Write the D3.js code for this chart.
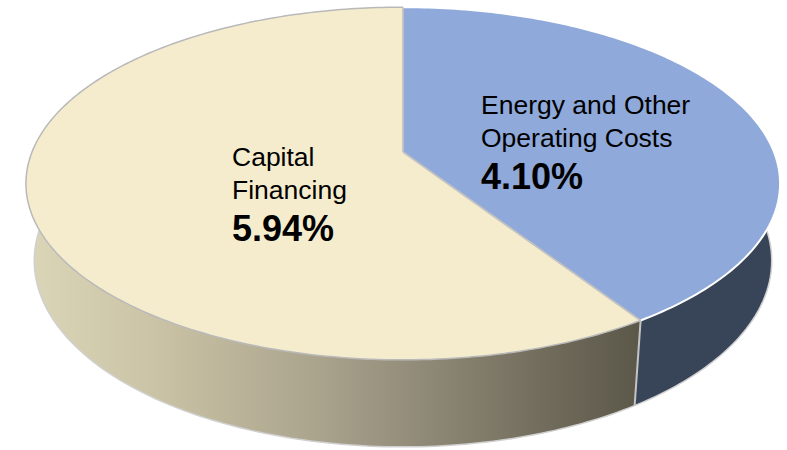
<!DOCTYPE html>
<html lang="en">
<head>
<meta charset="UTF-8">
<title>3D Pie</title>
<script src="https://cdnjs.cloudflare.com/ajax/libs/d3/7.8.5/d3.min.js"></script>
<style>
  body { margin: 0; background: #fff; }
  svg { display: block; }
  text { font-family: "Liberation Sans", Arial, sans-serif; fill: #000; }
</style>
</head>
<body>
<script>
  // data
  const categories = ['Energy and Other Operating Costs', 'Capital Financing'];
  const values = [4.10, 5.94];
  const labelLines = [['Energy and Other', 'Operating Costs'], ['Capital', 'Financing']];
  const valueLabels = ['4.10%', '5.94%'];

  const w = 787;
  const h = 450;

  // perspective camera looking down at a unit disc
  const cx = 403, cy = 152;
  const tilt = 27.4 * Math.PI / 180;
  const dist = 4.97;
  const camH = dist * Math.sin(tilt);
  const camL = dist * Math.cos(tilt);
  const focal = 371 * dist;
  const thick = 0.2366;

  function project(theta, r, y) {
    const px = r * Math.sin(theta);
    const pz = r * Math.cos(theta);
    const ry = y - camH, rz = pz + camL;
    const depth = (-ry * camH + rz * camL) / dist;
    const up = (ry * camL + rz * camH) / dist;
    return [cx + focal * px / depth, cy - focal * up / depth];
  }

  function arcPts(a0, a1, y) {
    const n = Math.max(2, Math.ceil(Math.abs(a1 - a0) * 60));
    return d3.range(n + 1).map(i => project(a0 + (a1 - a0) * i / n, 1, y));
  }

  const line = d3.line();

  const topFill = ['#8ea9da', '#f5ecce'];
  const outerStroke = ['#ffffff', '#b9b9b9'];

  const pie = d3.pie().sort(null).value(d => d);
  const arcs = pie(values);

  const svg = d3.select('body').append('svg')
    .attr('width', w)
    .attr('height', h);

  const defs = svg.append('defs');
  const grad = defs.append('linearGradient')
    .attr('id', 'beigeSide')
    .attr('gradientUnits', 'userSpaceOnUse')
    .attr('x1', 26).attr('x2', 640).attr('y1', 0).attr('y2', 0);
  [[0, '#dcd6b8'], [0.2, '#cbc4a6'], [0.45, '#aea790'], [0.65, '#8f8977'], [0.85, '#706b5b'], [1, '#5c5849']]
    .forEach(s => grad.append('stop').attr('offset', s[0]).attr('stop-color', s[1]));

  const sideFill = ['#384558', 'url(#beigeSide)'];

  // side walls
  svg.selectAll('path.side')
    .data(arcs)
    .enter()
    .append('path')
    .attr('class', 'side')
    .attr('d', d => {
      const top = arcPts(d.startAngle, d.endAngle, 0);
      const bot = arcPts(d.endAngle, d.startAngle, -thick);
      return line(top.concat(bot)) + 'Z';
    })
    .attr('fill', (d, i) => sideFill[i]);

  // bottom rim highlight (near side only)
  svg.append('path')
    .attr('d', line(arcPts(Math.PI * 0.5, Math.PI * 1.5, -thick)))
    .attr('fill', 'none')
    .attr('stroke', '#d0d0d0')
    .attr('stroke-width', 1.5);

  // wall seam
  const seamA = arcs[0].endAngle;
  svg.append('path')
    .attr('d', line([project(seamA, 1, 0), project(seamA, 1, -thick)]))
    .attr('stroke', '#c4c4c4')
    .attr('stroke-width', 2);

  // top faces
  svg.selectAll('path.top')
    .data(arcs)
    .enter()
    .append('path')
    .attr('class', 'top')
    .attr('d', d => line([project(0, 0, 0)].concat(arcPts(d.startAngle, d.endAngle, 0))) + 'Z')
    .attr('fill', (d, i) => topFill[i]);

  // outer rims
  svg.selectAll('path.rim')
    .data(arcs)
    .enter()
    .append('path')
    .attr('class', 'rim')
    .attr('d', d => line(arcPts(d.startAngle, d.endAngle, 0)))
    .attr('fill', 'none')
    .attr('stroke', (d, i) => outerStroke[i])
    .attr('stroke-width', (d, i) => i === 0 ? 2 : 1.5);

  // radial dividers
  svg.selectAll('path.div')
    .data(arcs)
    .enter()
    .append('path')
    .attr('class', 'div')
    .attr('d', d => line([project(0, 0, 0), project(d.startAngle, 1, 0)]))
    .attr('stroke', '#c2c2c2')
    .attr('stroke-width', 1.8);

  // labels
  const labelPos = [{ x: 481, y: 114 }, { x: 232, y: 166 }];
  arcs.forEach((d, i) => {
    const g = svg.append('g').attr('transform', `translate(${labelPos[i].x},${labelPos[i].y})`);
    labelLines[i].forEach((t, j) => {
      g.append('text')
        .attr('y', j * 32.5)
        .attr('font-size', 26.5)
        .text(t);
    });
    g.append('text')
      .attr('y', 74.5)
      .attr('font-size', 36)
      .attr('font-weight', 'bold')
      .text(valueLabels[i]);
  });
</script>
</body>
</html>
